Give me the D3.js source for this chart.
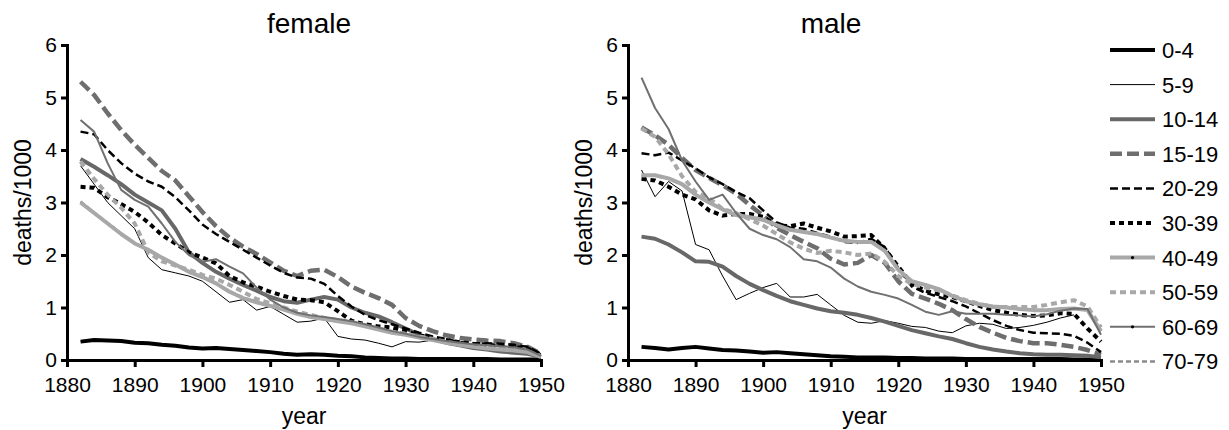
<!DOCTYPE html>
<html>
<head>
<meta charset="utf-8">
<script src="https://cdn.jsdelivr.net/npm/d3@7/dist/d3.min.js"></script>
<style>
  body { margin: 0; background: #fff; }
  svg text { font-family: "Liberation Sans", Arial, sans-serif; fill: #000; }
</style>
</head>
<body>
<div id="chart"></div>
<script>
// --- Data ---
const years = [1882, 1884, 1886, 1888, 1890, 1892, 1894, 1896, 1898, 1900,
               1902, 1904, 1906, 1908, 1910, 1912, 1914, 1916, 1918, 1920,
               1922, 1924, 1926, 1928, 1930, 1932, 1934, 1936, 1938, 1940,
               1942, 1944, 1946, 1948, 1950];

const ageGroups = ["0-4", "5-9", "10-14", "15-19", "20-29", "30-39", "40-49", "50-59", "60-69", "70-79"];

const xTicks = [1880, 1890, 1900, 1910, 1920, 1930, 1940, 1950];
const yTicks = [0, 1, 2, 3, 4, 5, 6];

// female, deaths per 1000
const female0_4   = [.35, .38, .37, .36, .33, .32, .29, .27, .24, .22, .23, .21, .19, .17, .15, .12, .10, .11, .10, .08, .07, .05, .04, .03, .03, .02, .02, .02, .02, .02, .02, .01, .01, .01, .01];
const female5_9   = [3.7, 3.35, 3.0, 2.75, 2.5, 1.95, 1.72, 1.66, 1.6, 1.5, 1.3, 1.1, 1.15, .95, 1.02, .87, .72, .74, .8, .45, .4, .38, .32, .25, .35, .34, .38, .36, .33, .3, .28, .27, .25, .27, .12];
const female10_14 = [3.83, 3.68, 3.52, 3.35, 3.15, 3.0, 2.85, 2.5, 2.05, 1.85, 1.68, 1.55, 1.43, 1.32, 1.2, 1.12, 1.09, 1.15, 1.2, 1.15, 1.0, .9, .83, .72, .6, .48, .4, .33, .28, .23, .2, .16, .14, .12, .06];
const female15_19 = [5.3, 5.05, 4.7, 4.38, 4.1, 3.85, 3.6, 3.42, 3.12, 2.82, 2.55, 2.33, 2.16, 2.02, 1.86, 1.7, 1.6, 1.7, 1.72, 1.58, 1.4, 1.28, 1.18, 1.05, .8, .65, .55, .47, .42, .39, .37, .36, .32, .25, .12];
const female20_29 = [4.35, 4.3, 4.0, 3.75, 3.55, 3.4, 3.3, 3.1, 2.85, 2.58, 2.4, 2.25, 2.1, 1.95, 1.8, 1.66, 1.57, 1.55, 1.45, 1.22, 1.02, .86, .76, .68, .6, .52, .45, .4, .34, .32, .32, .31, .29, .25, .12];
const female30_39 = [3.3, 3.28, 3.1, 2.97, 2.82, 2.62, 2.38, 2.22, 2.05, 1.95, 1.84, 1.6, 1.48, 1.4, 1.3, 1.22, 1.15, 1.14, 1.1, .93, .75, .68, .64, .62, .55, .47, .42, .38, .34, .31, .29, .27, .25, .22, .1];
const female40_49 = [3.0, 2.8, 2.6, 2.4, 2.22, 2.1, 1.95, 1.82, 1.68, 1.58, 1.46, 1.3, 1.18, 1.1, 1.03, .96, .88, .82, .78, .74, .7, .64, .58, .52, .48, .43, .38, .33, .29, .25, .22, .2, .18, .15, .06];
const female50_59 = [3.78, 3.45, 3.15, 2.9, 2.6, 2.05, 1.88, 1.8, 1.72, 1.62, 1.55, 1.43, 1.3, 1.16, 1.08, 1.0, .92, .86, .8, .76, .72, .66, .6, .54, .5, .45, .4, .35, .3, .27, .24, .22, .19, .16, .07];
const female60_69 = [4.57, 4.35, 3.75, 3.24, 3.05, 2.92, 2.6, 2.25, 2.0, 1.87, 1.92, 1.78, 1.65, 1.38, 1.15, 1.0, .9, .85, .82, .78, .74, .68, .62, .55, .5, .44, .4, .36, .33, .3, .28, .26, .24, .2, .08];
const female70_79 = [3.02, 2.81, 2.61, 2.41, 2.23, 2.1, 1.95, 1.82, 1.69, 1.58, 1.46, 1.31, 1.19, 1.1, 1.03, .96, .88, .82, .78, .74, .7, .64, .58, .52, .48, .43, .38, .33, .29, .25, .22, .2, .18, .15, .06];

// male, deaths per 1000
const male0_4   = [.25, .23, .20, .23, .25, .22, .19, .18, .16, .14, .15, .13, .11, .09, .07, .06, .05, .05, .05, .04, .04, .03, .03, .03, .02, .02, .02, .02, .02, .02, .02, .02, .01, .01, .01];
const male5_9   = [3.62, 3.11, 3.4, 3.22, 2.2, 2.1, 1.6, 1.15, 1.27, 1.38, 1.46, 1.2, 1.2, 1.25, 1.05, .85, .72, .7, .75, .7, .64, .62, .55, .52, .65, .7, .68, .6, .62, .66, .72, .8, .86, null, null];
const male10_14 = [2.35, 2.31, 2.2, 2.05, 1.88, 1.87, 1.78, 1.6, 1.45, 1.33, 1.22, 1.12, 1.05, .98, .93, .9, .86, .8, .73, .65, .57, .51, .45, .4, .32, .25, .2, .16, .13, .11, .1, .1, .09, .08, .05];
const male15_19 = [4.43, 4.28, 4.1, 3.85, 3.62, 3.47, 3.33, 3.17, 2.95, 2.75, 2.52, 2.38, 2.25, 2.13, 1.93, 1.82, 1.85, 2.0, 1.85, 1.5, 1.26, 1.17, 1.07, .95, .78, .63, .52, .42, .36, .32, .32, .29, .25, .19, .1];
const male20_29 = [3.94, 3.9, 3.95, 3.8, 3.65, 3.48, 3.35, 3.2, 3.08, 2.85, 2.62, 2.52, 2.5, 2.42, 2.35, 2.25, 2.23, 2.31, 2.15, 1.75, 1.4, 1.28, 1.2, 1.12, 1.02, .89, .76, .65, .57, .52, .51, .5, .46, .33, .15];
const male30_39 = [3.45, 3.42, 3.3, 3.15, 3.06, 2.85, 2.75, 2.78, 2.78, 2.73, 2.56, 2.55, 2.6, 2.52, 2.45, 2.35, 2.36, 2.38, 2.12, 1.78, 1.45, 1.32, 1.25, 1.2, 1.12, 1.03, .95, .9, .86, .84, .85, .89, .88, .6, .35];
const male40_49 = [3.52, 3.52, 3.46, 3.35, 3.15, 3.0, 2.87, 2.76, 2.72, 2.67, 2.57, 2.48, 2.44, 2.4, 2.33, 2.27, 2.25, 2.25, 2.08, 1.72, 1.5, 1.43, 1.35, 1.22, 1.12, 1.06, 1.02, 1.0, .97, .95, .95, .97, .98, .95, .55];
const male50_59 = [4.41, 4.25, 3.92, 3.5, 3.2, 3.08, 2.88, 2.8, 2.68, 2.56, 2.4, 2.24, 2.12, 2.04, 2.08, 2.05, 2.0, 2.03, 1.87, 1.6, 1.45, 1.38, 1.33, 1.23, 1.14, 1.07, 1.01, 1.01, 1.01, 1.01, 1.05, 1.1, 1.14, 1.02, .62];
const male60_69 = [5.38, 4.8, 4.4, 3.8, 3.4, 3.05, 3.15, 2.8, 2.5, 2.38, 2.3, 2.15, 1.92, 1.88, 1.76, 1.55, 1.4, 1.3, 1.24, 1.17, 1.05, .92, .86, .93, .88, .88, .88, .86, .85, .83, .87, .94, .98, .97, .48];
const male70_79 = [3.51, 3.51, 3.45, 3.34, 3.15, 3.0, 2.87, 2.76, 2.72, 2.66, 2.57, 2.48, 2.44, 2.39, 2.33, 2.27, 2.25, 2.24, 2.08, 1.72, 1.5, 1.43, 1.35, 1.22, 1.12, 1.06, 1.02, 1.0, .97, .95, .95, .97, .98, .95, .55];

const femaleSeries = [female0_4, female5_9, female10_14, female15_19, female20_29, female30_39, female40_49, female50_59, female60_69, female70_79];
const maleSeries = [male0_4, male5_9, male10_14, male15_19, male20_29, male30_39, male40_49, male50_59, male60_69, male70_79];

// --- Styles ---
const lineStyles = [
    { stroke: "#000",    width: 4,   dash: null },            // 0-4
    { stroke: "#000",    width: 1,   dash: null },            // 5-9
    { stroke: "#686868", width: 4,   dash: null },            // 10-14
    { stroke: "#6e6e6e", width: 4.5, dash: "12,5" },          // 15-19
    { stroke: "#000",    width: 2.5, dash: "8,4" },           // 20-29
    { stroke: "#000",    width: 4,   dash: "5,4" },           // 30-39
    { stroke: "#a8a8a8", width: 4,   dash: null, dot: true }, // 40-49
    { stroke: "#a8a8a8", width: 4,   dash: "6,4" },           // 50-59
    { stroke: "#707070", width: 2,   dash: null, dot: true }, // 60-69
    { stroke: "#8a8a8a", width: 2.5, dash: "5,3" }            // 70-79
];
// 70-79 first so it sits underneath
const drawOrder = [9, 0, 1, 2, 3, 4, 5, 6, 7, 8];

const width = 1229, height = 430;
const fontSize = 21;

const svg = d3.select("#chart").append("svg")
    .attr("width", width)
    .attr("height", height);

const y = d3.scaleLinear().domain([0, 6]).range([360, 45]);

const panels = [
    { title: "female", series: femaleSeries, range: [67, 541], titleX: 309 },
    { title: "male", series: maleSeries, range: [628, 1101], titleX: 831 }
];

panels.forEach(p => {
    const x = d3.scaleLinear().domain([1880, 1950]).range(p.range);
    const g = svg.append("g");

    const line = d3.line()
        .defined(d => d[1] != null)
        .x(d => x(d[0]))
        .y(d => y(d[1]));

    drawOrder.forEach(i => {
        const s = lineStyles[i];
        g.append("path")
            .datum(years.map((yr, j) => [yr, p.series[i][j]]))
            .attr("fill", "none")
            .attr("stroke", s.stroke)
            .attr("stroke-width", s.width)
            .attr("stroke-dasharray", s.dash)
            .attr("stroke-linejoin", "round")
            .attr("d", line);
    });

    // axes
    const yAxis = g.append("g")
        .attr("transform", `translate(${p.range[0]},0)`)
        .call(d3.axisLeft(y).tickValues(yTicks).tickFormat(d3.format("d"))
            .tickSize(6).tickSizeOuter(0).tickPadding(4));
    const xAxis = g.append("g")
        .attr("transform", "translate(0,360)")
        .call(d3.axisBottom(x).tickValues(xTicks).tickFormat(d3.format("d"))
            .tickSize(7).tickSizeOuter(0).tickPadding(10));

    [yAxis, xAxis].forEach(a => {
        a.attr("font-size", fontSize).attr("font-family", null);
        a.select(".domain").attr("stroke-width", 3).attr("stroke-linecap", "square");
        a.selectAll(".tick line").attr("stroke-width", 3);
    });

    // titles and axis labels
    svg.append("text")
        .attr("x", p.titleX)
        .attr("y", 33)
        .attr("text-anchor", "middle")
        .attr("font-size", 28)
        .text(p.title);

    svg.append("text")
        .attr("x", (p.range[0] + p.range[1]) / 2)
        .attr("y", 424)
        .attr("text-anchor", "middle")
        .attr("font-size", 23)
        .text("year");

    svg.append("text")
        .attr("transform", `translate(${p.range[0] - 36},${(y(0) + y(6)) / 2}) rotate(-90)`)
        .attr("text-anchor", "middle")
        .attr("font-size", 23)
        .text("deaths/1000");
});

// --- Legend ---
const legend = svg.append("g").attr("transform", "translate(1110,50)");
const rowGap = 34.6;

ageGroups.forEach((name, i) => {
    const s = lineStyles[i];
    const row = legend.append("g").attr("transform", `translate(0,${i * rowGap})`);
    row.append("line")
        .attr("x1", 0).attr("x2", 45)
        .attr("stroke", s.stroke)
        .attr("stroke-width", s.width)
        .attr("stroke-dasharray", s.dash);
    if (s.dot) {
        row.append("circle")
            .attr("cx", 22.5).attr("r", 1.6)
            .attr("fill", "#000");
    }
    row.append("text")
        .attr("x", 52)
        .attr("dy", "0.36em")
        .attr("font-size", 22)
        .text(name);
});
</script>
</body>
</html>
